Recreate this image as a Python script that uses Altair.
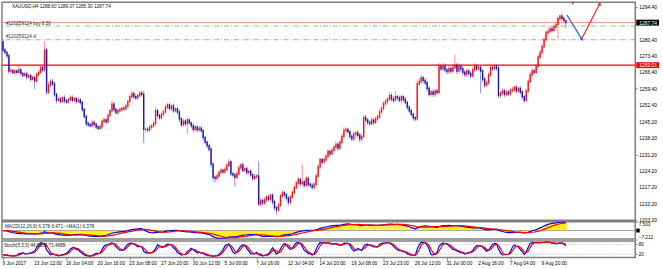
import altair as alt
import pandas as pd

# ---------------- data ----------------
FIRST_OPEN = 1279.5
CLOSE = [
    1276.0, 1275.0, 1273.5, 1267.0, 1267.2, 1266.4, 1267.0, 1266.5, 1267.5, 1266.0,
    1265.2, 1265.8, 1264.5, 1265.0, 1263.5, 1264.2, 1262.8, 1265.5, 1266.5, 1268.5,
    1267.5, 1276.0, 1258.0, 1261.0, 1262.5, 1261.5, 1257.0, 1254.5, 1255.0, 1254.0,
    1255.5, 1254.3, 1253.8, 1254.8, 1255.6, 1254.5, 1255.2, 1254.0, 1254.6, 1253.5,
    1250.5, 1247.5, 1244.5, 1244.0, 1243.5, 1245.0, 1244.2, 1243.0, 1242.5, 1243.2,
    1245.5, 1246.0, 1245.2, 1248.0, 1250.0, 1252.8, 1250.5, 1249.2, 1250.0, 1250.5,
    1251.0, 1250.8, 1252.0, 1254.0, 1256.0, 1257.3, 1256.0, 1255.5, 1256.5, 1257.5,
    1257.0, 1242.0, 1242.0, 1241.8, 1243.0, 1243.5, 1244.5, 1250.0, 1248.0, 1247.0,
    1248.5, 1249.5, 1251.5, 1252.5, 1251.0, 1252.0, 1250.0, 1250.8, 1249.5, 1246.5,
    1244.0, 1245.5, 1244.5, 1246.0, 1244.8, 1243.5, 1242.0, 1243.0, 1241.8, 1242.5,
    1241.5, 1238.5, 1236.5, 1235.0, 1233.5, 1227.0, 1221.5, 1221.0, 1222.0, 1223.5,
    1224.5, 1223.8, 1224.8, 1226.5, 1228.0, 1223.0, 1222.5, 1221.5, 1223.0, 1225.5,
    1226.8, 1224.5, 1225.0, 1223.5, 1224.0, 1222.5, 1221.0, 1221.8, 1222.0, 1210.0,
    1211.5, 1210.5, 1211.8, 1213.0, 1212.0, 1213.8, 1211.0, 1208.5, 1207.5, 1209.5,
    1213.5, 1214.8, 1214.0, 1212.5, 1210.8, 1213.0, 1215.0, 1217.0, 1219.0, 1220.5,
    1218.8, 1219.5, 1218.0, 1221.0, 1218.5, 1218.0, 1217.2, 1218.5, 1222.0, 1226.0,
    1229.0, 1228.0, 1229.0, 1230.5, 1232.5, 1231.5, 1233.0, 1234.5, 1235.5, 1234.0,
    1236.5, 1239.0, 1241.5, 1242.0, 1241.0, 1239.0, 1238.0, 1240.0, 1240.5, 1239.5,
    1238.0, 1239.0, 1247.0, 1246.0, 1245.0, 1244.5, 1246.0, 1245.0, 1246.5, 1247.5,
    1249.5, 1251.0, 1253.0, 1254.0, 1255.0, 1256.5, 1255.0, 1254.5, 1256.0, 1255.5,
    1254.5, 1256.0, 1254.8, 1253.5, 1251.5, 1250.0, 1248.5, 1247.0, 1246.5, 1261.5,
    1262.5, 1264.0, 1263.0, 1262.0, 1259.5, 1257.0, 1258.0, 1257.0, 1258.5, 1257.8,
    1269.0, 1268.0, 1269.2, 1267.5, 1266.8, 1268.0, 1267.0, 1268.5, 1269.5, 1267.0,
    1269.0, 1268.0, 1266.5, 1265.5, 1267.0, 1266.0, 1265.0, 1267.5, 1269.0, 1268.0,
    1268.5, 1267.0, 1263.5, 1261.0, 1262.0, 1265.5, 1268.5, 1268.0, 1269.0, 1268.2,
    1256.5, 1257.5, 1258.5, 1257.0, 1258.0, 1257.2, 1258.8, 1259.0, 1260.0, 1258.5,
    1259.5, 1258.0, 1256.0, 1254.5, 1258.5, 1262.5, 1265.5, 1267.0, 1266.5, 1269.0,
    1273.0, 1275.0, 1277.5, 1280.5, 1283.5, 1284.0, 1285.0, 1284.5, 1286.0, 1287.0,
    1289.5, 1290.5, 1289.5, 1288.6, 1287.74,
]
UPPER_WICK = [
    0.5, 0.8, 0.6, 1.0, 1.2, 0.7, 0.9, 0.6, 2.2, 0.8,
    0.6, 1.0, 0.7, 0.9, 0.8, 1.1, 0.6, 0.9, 1.0, 0.7,
    1.2, 3.8, 1.0, 1.4, 0.9, 1.2, 0.8, 0.7, 1.0, 0.9,
    0.6, 1.1, 0.8, 0.7, 0.9, 1.0, 0.6, 0.8, 1.2, 0.7,
    0.9, 0.6, 0.8, 1.0, 0.7, 1.2, 0.9, 0.6, 0.8, 1.0,
    0.7, 1.1, 0.8, 0.9, 0.6, 1.4, 1.0, 0.7, 0.8, 1.1,
    0.6, 0.9, 0.8, 0.7, 1.0, 1.1, 0.8, 1.2, 0.6, 0.9,
    1.0, 1.5, 0.8, 1.0, 0.7, 0.9, 1.2, 1.5, 0.8, 0.6,
    0.9, 1.0, 1.2, 0.8, 0.9, 0.7, 1.1, 0.8, 0.6, 1.0,
    0.7, 1.2, 0.8, 0.9, 1.0, 0.6, 1.1, 0.8, 0.7, 0.9,
    1.0, 0.6, 0.8, 0.7, 0.9, 1.2, 1.0, 0.8, 1.1, 0.9,
    1.2, 0.7, 1.0, 1.1, 1.3, 0.8, 0.7, 0.9, 1.0, 1.2,
    0.8, 1.0, 0.7, 1.1, 0.8, 0.9, 0.6, 1.0, 0.8, 6.5,
    1.0, 0.8, 1.2, 0.9, 1.1, 0.7, 0.8, 1.0, 0.6, 1.2,
    0.9, 1.3, 0.8, 0.7, 1.0, 1.1, 0.9, 1.2, 0.8, 1.0,
    0.9, 7.3, 0.8, 1.2, 0.9, 0.7, 1.0, 0.8, 1.1, 1.2,
    1.0, 0.8, 1.2, 0.9, 1.1, 0.7, 1.0, 0.8, 1.3, 0.9,
    1.0, 1.2, 1.4, 0.8, 0.7, 0.9, 1.0, 1.1, 0.8, 1.2,
    0.9, 1.0, 1.3, 1.2, 0.8, 0.9, 1.1, 0.7, 1.0, 0.9,
    1.2, 0.8, 1.0, 1.1, 0.9, 1.3, 1.0, 1.2, 2.5, 0.8,
    1.0, 0.9, 0.7, 1.1, 0.8, 0.9, 1.0, 0.7, 0.8, 1.2,
    1.5, 1.3, 0.9, 1.0, 0.8, 1.1, 0.9, 1.2, 0.8, 1.0,
    1.4, 1.0, 1.2, 0.9, 0.8, 1.1, 1.0, 1.3, 4.5, 1.0,
    1.2, 0.9, 1.0, 0.8, 1.1, 0.7, 0.9, 1.2, 1.4, 1.0,
    1.1, 1.0, 0.8, 0.9, 1.2, 1.0, 1.3, 1.1, 1.2, 0.9,
    1.0, 0.8, 1.2, 0.9, 1.0, 0.8, 1.1, 1.2, 0.9, 1.0,
    0.8, 1.1, 0.9, 0.7, 1.0, 1.2, 1.1, 1.4, 1.0, 1.2,
    1.1, 1.3, 1.0, 1.2, 0.9, 1.5, 1.1, 1.3, 1.0, 1.2,
    1.0, 0.7, 1.2, 0.8, 0.47,
]
LOWER_WICK = [
    0.8, 0.6, 1.0, 1.2, 0.9, 0.7, 1.1, 0.8, 0.6, 1.0,
    0.9, 0.7, 1.2, 0.8, 1.0, 0.6, 3.6, 0.8, 0.9, 0.7,
    0.8, 1.0, 1.2, 0.9, 0.7, 1.1, 1.0, 1.3, 0.8, 0.9,
    0.7, 1.0, 0.8, 1.1, 0.6, 0.9, 0.8, 1.0, 0.7, 0.9,
    1.1, 0.8, 1.2, 0.9, 0.7, 0.8, 1.0, 0.9, 1.0, 0.8,
    0.9, 0.7, 1.0, 0.8, 0.9, 0.7, 1.1, 0.8, 0.9, 0.6,
    0.8, 1.0, 0.7, 0.9, 0.8, 0.6, 1.0, 0.9, 0.7, 0.8,
    0.9, 5.9, 1.2, 1.0, 0.8, 0.9, 0.7, 0.8, 1.0, 0.9,
    0.8, 0.7, 0.9, 1.0, 0.8, 1.1, 0.9, 0.7, 1.0, 1.2,
    1.0, 0.9, 1.1, 4.2, 0.8, 1.0, 1.2, 0.9, 1.1, 0.8,
    1.0, 1.2, 0.9, 1.1, 1.0, 1.3, 1.5, 1.8, 1.0, 0.9,
    0.8, 1.0, 0.9, 0.7, 0.8, 1.1, 1.0, 4.0, 0.9, 0.8,
    0.9, 1.0, 0.8, 1.1, 0.9, 1.0, 1.2, 0.8, 0.9, 0.8,
    1.2, 1.0, 0.9, 1.1, 0.8, 1.0, 1.3, 1.2, 2.0, 1.0,
    0.8, 0.9, 1.1, 1.0, 1.2, 0.9, 0.8, 1.0, 0.7, 0.9,
    1.0, 0.8, 1.1, 0.9, 1.2, 1.0, 0.9, 1.1, 0.8, 0.9,
    1.0, 1.1, 0.8, 0.9, 1.0, 1.2, 0.8, 0.9, 1.0, 1.1,
    0.8, 0.9, 1.0, 0.8, 1.1, 1.2, 1.0, 0.9, 1.1, 1.0,
    1.5, 1.0, 0.9, 1.0, 1.2, 0.9, 1.0, 1.1, 0.8, 0.9,
    1.0, 0.8, 0.9, 1.0, 1.1, 0.8, 1.0, 1.2, 0.9, 1.0,
    0.9, 1.1, 1.0, 0.8, 1.2, 1.0, 1.1, 1.3, 1.0, 0.9,
    1.0, 0.9, 1.1, 1.0, 1.2, 1.0, 0.9, 1.1, 1.0, 0.8,
    0.9, 1.1, 1.0, 1.2, 1.3, 0.9, 1.0, 1.1, 0.8, 1.4,
    1.0, 1.2, 1.3, 1.1, 0.9, 1.0, 1.2, 0.8, 1.0, 1.1,
    1.0, 9.5, 1.1, 1.3, 1.0, 0.9, 1.0, 1.1, 0.8, 1.0,
    1.2, 1.0, 0.9, 1.1, 0.8, 1.0, 0.9, 1.1, 1.0, 1.2,
    0.9, 1.0, 1.1, 1.2, 0.9, 1.0, 0.8, 1.1, 1.0, 0.9,
    1.0, 0.8, 1.1, 0.9, 1.0, 1.2, 1.0, 1.1, 0.9, 1.0,
    6.0, 1.0, 0.9, 1.1, 2.44,
]
DATE_LABELS = [
    "9 Jun 2017", "13 Jun 12:00", "16 Jun 04:00", "20 Jun 16:00", "23 Jun 08:00",
    "27 Jun 20:00", "30 Jun 12:00", "5 Jul 00:00", "7 Jul 16:00", "12 Jul 04:00",
    "14 Jul 20:00", "19 Jul 08:00", "23 Jul 23:00", "26 Jul 12:00", "31 Jul 00:00",
    "2 Aug 16:00", "7 Aug 04:00", "9 Aug 20:00",
]
LABEL_EVERY = 16
PRICE_TICKS = [1294.40, 1280.40, 1273.40, 1266.40, 1259.40, 1252.40, 1245.20,
               1238.20, 1231.20, 1224.20, 1217.20, 1210.20, 1203.20]
PRICE_DOMAIN = [1203.07, 1296.5]
BAR_DOMAIN = [-0.5, 319.0]
BID_PRICE = 1287.74
BUY_PRICE = 1286.3
SL_PRICE = 1280.4
LEVEL_PRICE = 1269.51
BLUE_ARROW_X = [284.5, 292.0]
BLUE_ARROW_Y = [1291.0, 1280.8]
RED_ARROW_X = [292.0, 301.0]
RED_ARROW_Y = [1280.8, 1295.7]
TOP_MARK_X = [287.5]
TOP_MARK_Y = [1296.2]
TITLE = "XAUUSD,H4  1288.60 1289.07 1285.30 1287.74"
BUY_TEXT = "#120259124 buy 8.50"
SL_TEXT = "#120259124 sl"
MACD_TEXT = "MACD(12,26,9) 6.378 6.471 ->MA(1) 6.378"
STOCH_TEXT = "Stoch(5,3,3) 44.6564 71.4689"
MACD_LIMITS = [-7.212, 7.503]
MACD_TICKS = [-7.212, 0.0, 7.503]
STOCH_LEVELS = [20, 80]

# ---------------- table ----------------
n = len(CLOSE)
opens = [FIRST_OPEN] + CLOSE[:-1]
highs = [max(o, c) + u for o, c, u in zip(opens, CLOSE, UPPER_WICK)]
lows = [min(o, c) - d for o, c, d in zip(opens, CLOSE, LOWER_WICK)]
df = pd.DataFrame({"i": list(range(n)), "o": opens, "h": highs, "l": lows, "c": CLOSE})
df["dir"] = ["up" if c >= o else "down" for o, c in zip(opens, CLOSE)]

cl = df["c"]
df["macd"] = cl.ewm(span=12, adjust=False).mean() - cl.ewm(span=26, adjust=False).mean()
df["sig"] = df["macd"].rolling(9, min_periods=1).mean()
ll = df["l"].rolling(5, min_periods=1).min()
hh = df["h"].rolling(5, min_periods=1).max()
k = 100 * (cl - ll).rolling(3, min_periods=1).sum() / (hh - ll).rolling(3, min_periods=1).sum()
df["k"] = k
df["d"] = k.rolling(3, min_periods=1).mean()

# ---------------- styling ----------------
FONT = "Liberation Sans"
W = 639
MAIN_H, MACD_H, STOCH_H = 220, 17.5, 16.5
XS = alt.Scale(domain=BAR_DOMAIN, nice=False, zero=False)
PS = alt.Scale(domain=PRICE_DOMAIN, nice=False, zero=False)
MS = alt.Scale(domain=MACD_LIMITS, nice=False, zero=False)
SS = alt.Scale(domain=[0, 100], nice=False, zero=False)
xq = alt.X("i:Q", scale=XS, axis=None, title=None)
dir_color = alt.Color("dir:N", scale=alt.Scale(domain=["up", "down"], range=["#ff1010", "#1515c8"]), legend=None)

price_axis = alt.Axis(orient="right", values=PRICE_TICKS, labels=False,
                      tickSize=2, domain=False, grid=False)

base = alt.Chart(df)

def hline(price, color, width, dash=None):
    kw = {"color": color, "strokeWidth": width}
    if dash:
        kw["strokeDash"] = dash
    return alt.Chart(pd.DataFrame({"p": [price]})).mark_rule(**kw).encode(
        y=alt.Y("p:Q", scale=PS, title=None))

wicks = base.mark_rule(strokeWidth=1, opacity=0.5).encode(
    x=xq, y=alt.Y("l:Q", scale=PS, axis=price_axis, title=None), y2="h:Q", color=dir_color)
bodies = base.mark_rule(strokeWidth=1.4, strokeCap="square").encode(
    x=xq, y=alt.Y("o:Q", scale=PS, title=None), y2="c:Q", color=dir_color)

# price-axis labels, placed by the price scale
price_labels = alt.Chart(pd.DataFrame({"p": PRICE_TICKS})).mark_text(
    align="left", baseline="middle", fontSize=5, font=FONT, color="#000000").encode(
    x=alt.value(643), y=alt.Y("p:Q", scale=PS, title=None), text=alt.Text("p:Q", format=".2f"))

bid_line = hline(BID_PRICE, "#f28b8b", 1)
buy_line = hline(BUY_PRICE, "#66dd66", 1, [5, 2, 1, 2])
sl_line = hline(SL_PRICE, "#f28b8b", 1, [5, 2, 1, 2])
lvl_line = hline(LEVEL_PRICE, "#ff0000", 1.4)

order_df = pd.DataFrame({"p": [BUY_PRICE, SL_PRICE], "t": [BUY_TEXT, SL_TEXT]})
order_text = alt.Chart(order_df).mark_text(align="left", baseline="bottom", fontSize=4.7,
                                           font=FONT, color="#303030", dy=-0.3).encode(
    x=alt.value(4), y=alt.Y("p:Q", scale=PS, title=None), text="t:N")

title_text = alt.Chart(pd.DataFrame({"t": [TITLE]})).mark_text(
    align="left", baseline="middle", fontSize=4.7, font=FONT, color="#101010").encode(
    x=alt.value(10), y=alt.value(5), text="t:N")

box_df = pd.DataFrame({"p": [BID_PRICE, LEVEL_PRICE], "bg": ["#000000", "#ff0000"]})
box_rect = alt.Chart(box_df).mark_rule(strokeWidth=6).encode(
    x=alt.value(640), x2=alt.value(663), y=alt.Y("p:Q", scale=PS, title=None),
    color=alt.Color("bg:N", scale=None))
box_text = alt.Chart(box_df).mark_text(align="left", baseline="middle", fontSize=5,
                                       font=FONT, color="white").encode(
    x=alt.value(643), y=alt.Y("p:Q", scale=PS, title=None), text=alt.Text("p:Q", format=".2f"))

blue_df = pd.DataFrame({"x": BLUE_ARROW_X, "y": BLUE_ARROW_Y})
red_df = pd.DataFrame({"x": RED_ARROW_X, "y": RED_ARROW_Y})
blue_arrow = alt.Chart(blue_df).mark_line(color="#3366dd", strokeWidth=1.3, clip=True).encode(
    x=alt.X("x:Q", scale=XS, axis=None), y=alt.Y("y:Q", scale=PS, title=None))
red_arrow = alt.Chart(red_df).mark_line(color="#ff2a2a", strokeWidth=1.3, clip=True).encode(
    x=alt.X("x:Q", scale=XS, axis=None), y=alt.Y("y:Q", scale=PS, title=None))
blue_head = alt.Chart(blue_df.tail(1)).mark_point(shape="triangle", filled=True, size=16,
                                                  angle=148, color="#3366dd", opacity=1, clip=True).encode(
    x=alt.X("x:Q", scale=XS, axis=None), y=alt.Y("y:Q", scale=PS, title=None))
red_head = alt.Chart(red_df.tail(1)).mark_point(shape="triangle", filled=True, size=16,
                                                angle=27, color="#ff2a2a", opacity=1, clip=True).encode(
    x=alt.X("x:Q", scale=XS, axis=None), y=alt.Y("y:Q", scale=PS, title=None))
top_mark = alt.Chart(pd.DataFrame({"x": TOP_MARK_X, "y": TOP_MARK_Y})).mark_point(
    shape="triangle-down", filled=True, size=14, color="#c00000", opacity=1, clip=True).encode(
    x=alt.X("x:Q", scale=XS, axis=None), y=alt.Y("y:Q", scale=PS, title=None))

main = alt.layer(wicks, bid_line, buy_line, sl_line, lvl_line, bodies, order_text, title_text,
                 blue_arrow, red_arrow, blue_head, red_head, top_mark, price_labels,
                 box_rect, box_text).properties(width=W, height=MAIN_H)

# ---------------- MACD ----------------
macd_axis = alt.Axis(orient="right", values=MACD_TICKS, labelFontSize=4.7, tickSize=2,
                     labelPadding=1, domain=False, grid=False, labelFlush=True, labelOverlap=False,
                     labelExpr="datum.value == 0 ? '0.00' : format(datum.value, '.3f')")
hist = base.mark_rule(strokeWidth=1.8, color="#ffee00", clip=True).encode(
    x=xq, y=alt.Y("macd:Q", scale=MS, axis=macd_axis, title=None), y2=alt.datum(0))
zero_line = alt.Chart(pd.DataFrame({"v": [0.0]})).mark_rule(color="#909090", strokeWidth=0.8).encode(
    y=alt.Y("v:Q", scale=MS, title=None))
macd_line = base.mark_line(color="#0000ff", strokeWidth=1.2, clip=True).encode(
    x=xq, y=alt.Y("macd:Q", scale=MS, title=None))
sig_line = base.mark_line(color="#ff0000", strokeWidth=1.2, clip=True).encode(
    x=xq, y=alt.Y("sig:Q", scale=MS, title=None))
macd_label = alt.Chart(pd.DataFrame({"t": [MACD_TEXT]})).mark_text(
    align="left", baseline="middle", fontSize=4.7, font=FONT, color="#202020").encode(
    x=alt.value(3), y=alt.value(5), text="t:N")
zero_box = alt.Chart(pd.DataFrame({"v": [0.0]})).mark_rule(strokeWidth=4, color="black").encode(
    x=alt.value(640), x2=alt.value(643.5), y=alt.Y("v:Q", scale=MS, title=None))
macd = alt.layer(hist, zero_line, macd_line, sig_line, macd_label, zero_box).properties(width=W, height=MACD_H)

# ---------------- Stochastic ----------------
date_df = pd.DataFrame({"x": [LABEL_EVERY * j for j in range(len(DATE_LABELS))], "t": DATE_LABELS})
date_axis = alt.Axis(values=list(date_df["x"]), labels=False, tickSize=2.5, domain=False, grid=False)
stoch_axis = alt.Axis(orient="right", values=STOCH_LEVELS, format="d", labelFontSize=4.7,
                      tickSize=2, labelPadding=1, domain=False, grid=False, labelOverlap=False,
                      labelFlush=False)
lvl_df = pd.DataFrame({"v": STOCH_LEVELS})
stoch_levels = alt.Chart(lvl_df).mark_rule(color="#b8b8b8", strokeWidth=0.8, strokeDash=[1.5, 1.5]).encode(
    y=alt.Y("v:Q", scale=SS, axis=stoch_axis, title=None))
k_line = base.mark_line(color="#0000ff", strokeWidth=1.2, clip=True).encode(
    x=alt.X("i:Q", scale=XS, axis=date_axis, title=None), y=alt.Y("k:Q", scale=SS, title=None))
d_line = base.mark_line(color="#ff0000", strokeWidth=1.2, clip=True).encode(
    x=alt.X("i:Q", scale=XS, title=None), y=alt.Y("d:Q", scale=SS, title=None))
stoch_label = alt.Chart(pd.DataFrame({"t": [STOCH_TEXT]})).mark_text(
    align="left", baseline="middle", fontSize=4.7, font=FONT, color="#202020").encode(
    x=alt.value(2), y=alt.value(5.5), text="t:N")
date_text = alt.Chart(date_df).mark_text(
    align="left", baseline="top", fontSize=4.8, font=FONT, color="#000000", dx=-0.5).encode(
    x=alt.X("x:Q", scale=XS, title=None), y=alt.value(STOCH_H + 3.5), text="t:N")
stoch = alt.layer(stoch_levels, k_line, d_line, stoch_label, date_text).properties(width=W, height=STOCH_H)

chart = alt.vconcat(main, macd, stoch, spacing=1.5, bounds="flush").properties(
    padding=0, background="white"
).configure_view(
    stroke="#808080", strokeWidth=1.5
).configure_axis(
    labelFont=FONT, labelColor="#000000", tickColor="#808080", labelOverlap=False
)

chart.save("out.html", embed_options={"renderer": "svg", "actions": False})
